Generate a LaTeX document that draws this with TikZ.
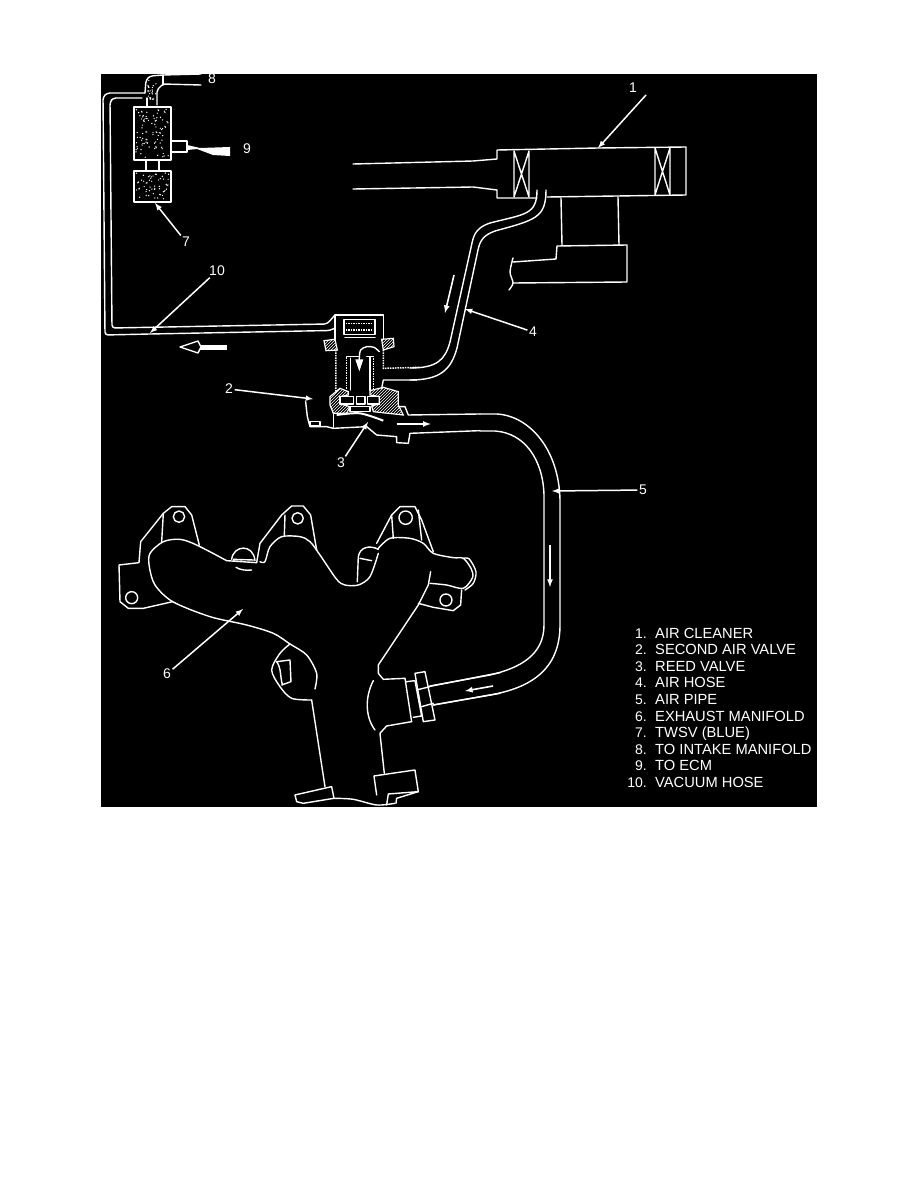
\documentclass[tikz,border=0pt]{standalone}
\usepackage{fontspec}
\setmainfont{Liberation Sans}
\usetikzlibrary{arrows, patterns}
\tikzstyle{trace} = [draw=white, line width=1.4pt, line join=round, line cap=round]
\tikzstyle{dotwall} = [draw=white, line width=1.5pt, densely dotted]
\tikzstyle{hatch} = [draw=white, line width=1.2pt, pattern=north east lines, pattern color=white]
\tikzstyle{leader} = [draw=white, line width=1.5pt, ->, >=latex]
\tikzstyle{flow} = [draw=white, line width=1.6pt, ->, >=latex]
\tikzstyle{callout} = [text=white, font=\fontsize{14}{14}\selectfont, inner sep=1.5pt]
\tikzstyle{legendnum} = [text=white, font=\fontsize{14}{14}\selectfont, anchor=base east, inner sep=0pt]
\tikzstyle{legendtext} = [text=white, font=\fontsize{14.7}{14.7}\selectfont, anchor=base west, inner sep=0pt]
\tikzstyle{valveview} = [xshift=220pt, yshift=-300pt, x=0.3333pt, y=-0.3333pt]
\tikzstyle{manifoldview} = [xshift=100pt, yshift=-490pt, x=0.3333pt, y=-0.3333pt]
\newcommand{\speckle}[5]{%
  \foreach \k in {1,...,#5} {
    \pgfmathsetmacro{\dotx}{#1+rnd*(#3-#1)}
    \pgfmathsetmacro{\doty}{#2+rnd*(#4-#2)}
    \fill[white] (\dotx,\doty) circle (0.7);
  }}
\pgfmathsetseed{11}
\begin{document}
\begin{tikzpicture}[x=1pt, y=-1pt]
    \useasboundingbox (0,0) rectangle (918,1188);
    \fill[black] (101,74) rectangle (817,807);

    % air cleaner
    \draw[trace] (353,164) -- (473,161) -- (497,159) -- (497,150) -- (598,148) -- (686,147) -- (686,195) -- (547,197);
    \draw[trace] (353,189) -- (473,187) -- (497,190) -- (497,198) -- (537,198);
    \draw[trace] (514,151) -- (514,197) (529,151) -- (529,197) (514,151) -- (529,197) (529,151) -- (514,197);
    \draw[trace] (655,148) -- (655,195) (670,148) -- (670,195) (655,148) -- (670,195) (670,148) -- (655,195);
    \draw[trace] (561,198) -- (562,245) (618,197) -- (619,245);
    \draw[trace] (513,262) -- (556,259) -- (557,246) -- (627,245) -- (627,282) -- (513,283);
    \draw[trace] plot[smooth] coordinates {(513,258) (510,272) (513,283) (509,290)};

    % air hose
    \draw[trace] (537,190) .. controls (537,215) and (525,214) .. (490,223) .. controls (478,227) and (474,233) .. (472,243) -- (450,342) .. controls (445,360) and (437,368) .. (410,368);
    \draw[trace] (546,190) .. controls (546,218) and (535,220) .. (495,231) .. controls (484,235) and (480,240) .. (478,250) -- (457,348) .. controls (451,370) and (440,380) .. (410,380);

    % solenoid valves
    \draw[trace] (134,107) rectangle (171,160);
    \draw[trace] (134,171) rectangle (171,202);
    \speckle{136}{109}{169}{158}{90}
    \speckle{136}{173}{169}{200}{55}
    \speckle{148}{80}{156}{105}{26}
    \draw[trace] (146,160) -- (146,171) (159,160) -- (159,171);
    \draw[trace] (171,141) -- (187,141) -- (187,152) -- (171,152);
    \fill[white] (187,145) -- (200,148) -- (230,147) -- (230,156) -- (213,155) -- (197,149) -- (187,150) -- cycle;
    \draw[trace, rounded corners=3pt] (145,93) -- (146,80) -- (150,76) -- (163,75) -- (201,74);
    \draw[trace, rounded corners=2pt] (157,105) -- (157,90) -- (163,84) -- (201,85);
    \draw[trace] (163,75) -- (163,84) (147,98) -- (147,107);

    % vacuum hose
    \draw[trace, rounded corners=3pt] (145,93) -- (107,93) -- (103,97) -- (105,335) -- (150,334) -- (330,330.5) -- (335,328);
    \draw[trace, rounded corners=3pt] (142,98) -- (113,98) -- (110,102) -- (112,328) -- (327,324) -- (335,315);
    % open flow arrow
    \fill[white] (227,345) rectangle (200,349.5);
    \draw[trace, fill=black] (180,347) -- (198,341) -- (201,347) -- (198,353) -- cycle;

    % second air valve
    \begin{scope}[valveview]
        \draw[trace] (345,45) -- (490,45) -- (490,118);
        \draw[trace] (345,45) -- (345,118);
        \draw[trace] (372,58) rectangle (465,103);
        \draw[dotwall] (378,70) -- (460,70) (378,90) -- (460,90);
        \draw[trace] (375,113) -- (465,113);
        \draw[hatch] (312,122) -- (345,118) -- (352,150) -- (318,152) -- cycle;
        \draw[hatch] (485,118) -- (520,115) -- (522,140) -- (490,150) -- cycle;
        \draw[dotwall] (348,150) -- (348,275) (490,150) -- (490,205) -- (600,202);
        \draw[trace] (490,240) -- (590,240) (490,240) -- (485,265);
        \draw[dotwall] (380,172) -- (380,268) (460,168) -- (460,268);
        \draw[trace] (380,170) -- (415,170) (440,170) -- (460,170);
        \draw[trace] (392,175) -- (392,270) (450,172) -- (450,270);
        \draw[trace] plot[smooth] coordinates {(478,155) (462,142) (440,140) (422,150) (418,172) (418,185)};
        \fill[white] (406,178) -- (430,178) -- (418,214) -- cycle;
        \draw[hatch] (330,290) -- (360,265) -- (385,275) -- (385,285) -- (360,290) -- (360,312) -- (390,320) -- (380,340) -- (340,340) -- (330,315) -- cycle;
        \draw[hatch] (450,272) -- (490,262) -- (535,275) -- (535,315) -- (550,345) -- (460,335) -- (455,318) -- (478,312) -- (478,290) -- (450,285) -- cycle;
        \draw[trace] (360,290) rectangle (400,312);
        \draw[trace] (410,290) rectangle (435,312);
        \draw[trace] (443,290) rectangle (478,312);
        \draw[trace] (390,320) rectangle (450,335);
        \draw[trace] (257,305) -- (262,350) -- (270,380) -- (320,380) -- (340,385) -- (440,380) -- (470,405) -- (530,410) -- (530,428) -- (565,430) -- (570,400) -- (780,392);
        \draw[trace] (270,365) rectangle (300,378);
        \draw[trace] (535,320) -- (555,320) -- (565,345) -- (780,342);
        \draw[trace] (340,340) -- (340,382);
        \draw[draw=white, line width=2pt] plot[smooth] coordinates {(350,345) (420,340) (490,362)};
        \draw[flow] (530,372) -- (632,372);
    \end{scope}

    % air pipe
    \draw[trace] (480,414) -- (497,414) .. controls (530,416) and (559,450) .. (560,500) -- (560,625) .. controls (560,670) and (530,688) .. (490,695) -- (433,705);
    \draw[trace] (480,431) -- (495,431) .. controls (525,433) and (543,460) .. (544,495) -- (544,625) .. controls (544,655) and (520,668) .. (490,675) -- (430,686);
    \draw[flow] (550,545) -- (550,587);
    \draw[flow] (493,686) -- (465,691);

    % exhaust manifold
    \begin{scope}[manifoldview]
        \draw[trace] (218,335) -- (130,355) -- (85,355) -- (60,335) -- (57,225) -- (117,218) -- (122,155) -- (190,70) -- (215,50) -- (255,50) -- (275,75) -- (298,165);
        \draw[trace] (185,155) -- (190,70);
        \draw[trace] plot[smooth, tension=.5] coordinates {(380,212) (290,165) (240,148) (190,155) (150,190) (148,230) (165,285) (218,335) (330,380) (440,405) (520,430) (570,462) (620,495) (650,550) (645,597)};
        \draw[trace] (395,208) .. controls (400,165) and (460,160) .. (465,212);
        \draw[trace] (380,212) -- (470,218) (400,208) -- (460,210);
        \draw[trace] (408,232) .. controls (420,240) and (440,242) .. (455,240);
        % middle lobe
        \draw[trace] (470,218) -- (480,160) -- (545,75) -- (575,48) -- (610,48) -- (632,75) -- (650,180);
        \draw[trace] (555,75) -- (553,138);
        \draw[trace] plot[smooth, tension=.5] coordinates {(480,215) (495,215) (510,170) (545,140) (600,140) (630,155) (660,195) (710,268) (735,285) (775,285) (810,260) (835,190)};
        \draw[trace] (772,275) -- (775,200) .. controls (780,170) and (810,165) .. (835,178);
        \draw[trace] (780,205) -- (815,212);
        % right lobe
        \draw[trace] (830,160) -- (875,75) -- (900,50) -- (945,50) -- (965,90) -- (1000,185);
        \draw[trace] (875,75) -- (880,145) (955,60) -- (965,150);
        \draw[trace] plot[smooth, tension=.5] coordinates {(835,175) (870,145) (930,145) (970,160) (1000,190) (1060,203) (1090,205) (1113,235) (1118,262) (1090,295) (1040,285) (990,280)};
        \draw[trace] plot[smooth, tension=.5] coordinates {(1090,205) (1108,207) (1128,245) (1120,280) (1095,300)};
        \draw[trace] (1085,300) -- (1082,345) -- (1060,362) -- (1000,352) -- (955,340);
        \draw[trace] (992,245) -- (985,285) -- (955,345) -- (835,525) -- (835,550) -- (850,568) -- (915,565);
        \draw[trace] (95,323) circle (18) (237,80) circle (17) (593,85) circle (17) (917,83) circle (20) (1038,330) circle (18);
        % left side boss
        \draw[trace] plot[smooth, tension=.5] coordinates {(570,462) (540,490) (515,540) (540,590) (575,625) (635,630)};
        \draw[trace] (635,630) -- (675,890);
        \draw[trace] (530,515) -- (570,510) -- (573,575) -- (545,585) (530,515) .. controls (545,535) and (540,565) .. (548,585);
        \draw[trace] (585,915) -- (695,890) -- (702,925) -- (610,940) -- (590,935) -- cycle;
        \draw[trace] plot[smooth, tension=.5] coordinates {(702,925) (760,928) (830,945) (885,940)};
        % outlet flange
        \draw[trace] (820,572) .. controls (795,620) and (795,680) .. (825,720);
        \draw[trace] (915,565) -- (935,695) (920,575) -- (945,572) -- (965,678) -- (940,682);
        \draw[trace] (945,550) -- (975,545) -- (1005,690) -- (970,695) -- cycle;
        \draw[trace] (950,600) -- (990,590) (965,650) -- (1000,640);
        \draw[trace] (985,590) -- (1200,548) (1000,645) -- (1200,610);
        \draw[trace] (935,695) -- (860,708) -- (840,730) -- (853,850);
        \draw[trace] (830,915) -- (822,858) -- (945,840) -- (955,905) -- (865,912) -- (860,945);
        \draw[trace] (890,925) -- (955,905) (890,925) -- (888,940);
    \end{scope}

    % callouts
    \node (lab1) [callout] at (633,88) {1};
    \node (lab2) [callout] at (229,389) {2};
    \node (lab3) [callout] at (341,463) {3};
    \node (lab4) [callout] at (533,332) {4};
    \node (lab5) [callout] at (643,490) {5};
    \node (lab6) [callout] at (167,674) {6};
    \node (lab7) [callout] at (186,242) {7};
    \node (lab8) [callout] at (212,79) {8};
    \node (lab9) [callout] at (247,149) {9};
    \node (lab10) [callout] at (217,271) {10};
    \coordinate (tip1) at (598,148);
    \coordinate (tip2) at (313,399);
    \coordinate (tip3) at (368,422);
    \coordinate (tip4) at (465,309);
    \coordinate (tip5) at (552,491);
    \coordinate (tip6) at (243,609);
    \coordinate (tip7) at (155,203);
    \coordinate (tip10) at (150,333);
    \draw[leader] (646,95) -- (tip1);
    \draw[leader] (lab2) -- (tip2);
    \draw[leader] (lab3) -- (tip3);
    \draw[leader] (lab4) -- (tip4);
    \draw[leader] (lab5) -- (tip5);
    \draw[leader] (lab6) -- (tip6);
    \draw[leader] (lab7) -- (tip7);
    \draw[leader] (lab10) -- (tip10);
    \draw[flow] (454,275) -- (445,313);

    % legend
    \foreach \num/\txt [count=\i] in {1/AIR CLEANER, 2/SECOND AIR VALVE, 3/REED VALVE, 4/AIR HOSE, 5/AIR PIPE, 6/EXHAUST MANIFOLD, 7/TWSV (BLUE), 8/TO INTAKE MANIFOLD, 9/TO ECM, 10/VACUUM HOSE} {
        \node (num\i) [legendnum] at (647,{621.5+16.6*\i}) {\num.};
        \node (item\i) [legendtext] at (655,{621.5+16.6*\i}) {\txt};
    }
\end{tikzpicture}
\end{document}
